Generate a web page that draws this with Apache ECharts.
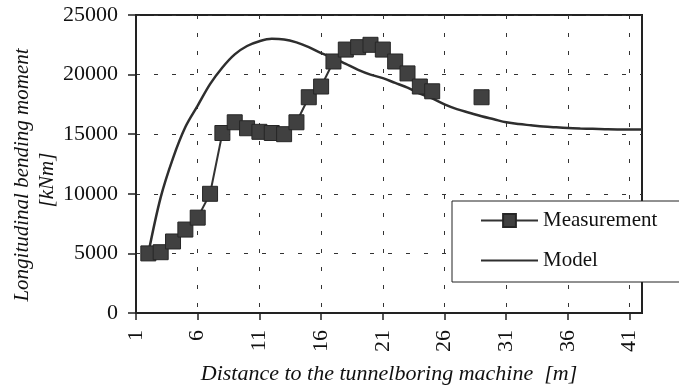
<!DOCTYPE html>
<html>
<head>
<meta charset="utf-8">
<script src="https://cdn.jsdelivr.net/npm/echarts@6/dist/echarts.min.js"></script>
<style>html,body{margin:0;padding:0;background:#fff}#c{width:679px;height:385px}</style>
</head>
<body>
<div id="c"></div>
<script>
var categories = [];
for (var i = 1; i <= 42; i++) categories.push(String(i));

var measurement = [null, 5000, 5100, 6000, 7000, 8000, 10000, 15100, 16000, 15500,
  15200, 15100, 15000, 16000, 18100, 19000, 21100, 22100, 22300, 22500,
  22100, 21100, 20100, 19000, 18600, null, null, null, 18100, null,
  null, null, null, null, null, null, null, null, null, null, null, null];

var model = [null, 5000, 9700, 13000, 15600, 17400, 19200, 20600, 21700, 22400,
  22800, 23000, 22950, 22700, 22300, 21800, 21400, 20900, 20400, 20000,
  19700, 19300, 18900, 18400, 18000, 17500, 17100, 16800, 16500, 16250,
  16000, 15850, 15750, 15650, 15580, 15520, 15480, 15450, 15420, 15400, 15400, 15400];

var yTicks = [0, 5000, 10000, 15000, 20000, 25000];

var serif = 'Liberation Serif';
var chart = echarts.init(document.getElementById('c'));
chart.setOption({
  animation: false,
  backgroundColor: '#fff',
  textStyle: { fontFamily: serif, color: '#111' },
  grid: { left: 136, top: 15, right: 37, bottom: 72, outerBoundsMode: 'none', containLabel: false,
    show: true, borderColor: '#222', borderWidth: 2, backgroundColor: 'transparent' },
  xAxis: {
    type: 'category',
    data: categories,
    boundaryGap: false,
    name: 'Distance to the tunnelboring machine  [m]',
    nameLocation: 'middle',
    nameGap: 50,
    nameTextStyle: { fontFamily: serif, fontStyle: 'italic', fontSize: 22, color: '#111' },
    axisLine: { lineStyle: { color: '#222', width: 2 } },
    axisTick: { show: true, interval: 4, length: 7, lineStyle: { color: '#222', width: 1.5 } },
    axisLabel: { interval: 4, rotate: 90, margin: 17, fontFamily: serif, fontSize: 22, color: '#111' },
    splitLine: { show: true, interval: 4, lineStyle: { color: '#333', width: 1, type: [4, 14] } }
  },
  yAxis: {
    type: 'value',
    min: yTicks[0],
    max: yTicks[yTicks.length - 1],
    interval: 5000,
    axisLine: { show: true, lineStyle: { color: '#222', width: 2 } },
    axisTick: { show: true, length: 8, lineStyle: { color: '#222', width: 1.5 } },
    axisLabel: { margin: 18, fontFamily: serif, fontSize: 22, color: '#111',
      formatter: function (v) { return String(v); } },
    splitLine: { show: true, lineStyle: { color: '#333', width: 1, type: [4, 14] } }
  },
  legend: {
    orient: 'vertical',
    left: 452,
    top: 201,
    padding: [9, 60, 11, 28],
    itemWidth: 57,
    itemHeight: 16,
    itemGap: 19,
    backgroundColor: '#fff',
    borderColor: '#222',
    borderWidth: 1,
    textStyle: { fontFamily: serif, fontSize: 21, color: '#111' },
    data: [
      { name: 'Measurement' },
      { name: 'Model', itemStyle: { opacity: 0 } }
    ]
  },
  graphic: [
    { type: 'text', x: 22, y: 175, rotation: Math.PI / 2,
      style: { text: 'Longitudinal bending moment', font: 'italic 21px "Liberation Serif"', fill: '#111', textAlign: 'center', textVerticalAlign: 'middle' } },
    { type: 'text', x: 47, y: 180, rotation: Math.PI / 2,
      style: { text: '[kNm]', font: 'italic 21px "Liberation Serif"', fill: '#111', textAlign: 'center', textVerticalAlign: 'middle' } }
  ],
  series: [
    {
      name: 'Measurement',
      type: 'line',
      data: measurement,
      connectNulls: false,
      symbol: 'rect',
      symbolSize: 15,
      showAllSymbol: true,
      itemStyle: { color: '#404040', borderColor: '#262626', borderWidth: 1 },
      lineStyle: { color: '#333', width: 2 },
      z: 3
    },
    {
      name: 'Model',
      type: 'line',
      data: model,
      smooth: 0.35,
      symbol: 'none',
      itemStyle: { color: '#333' },
      lineStyle: { color: '#2e2e2e', width: 2.5 },
      z: 2
    }
  ]
});
</script>
</body>
</html>
